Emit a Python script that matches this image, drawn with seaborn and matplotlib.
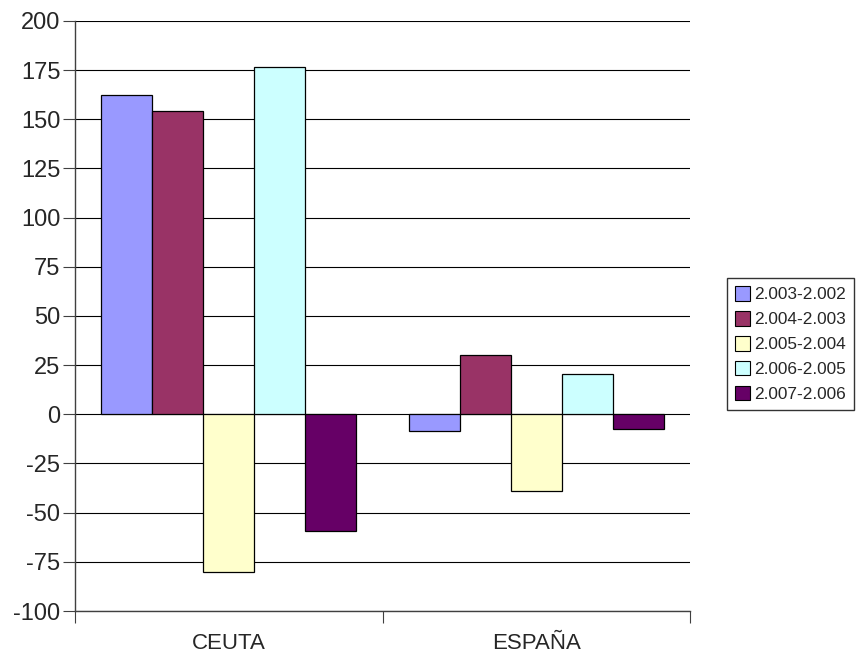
import matplotlib
matplotlib.use("Agg")
import matplotlib.pyplot as plt
import seaborn as sns
import pandas as pd

regions = ["CEUTA", "ESPAÑA"]
periods = ["2.003-2.002", "2.004-2.003", "2.005-2.004", "2.006-2.005", "2.007-2.006"]
ceuta = [162.3, 154.4, -80.3, 176.7, -59.5]
espana = [-8.5, 30.2, -38.9, 20.7, -7.6]
y_ticks = list(range(-100, 201, 25))

palette = ["#9999FF", "#993366", "#FFFFCC", "#CCFFFF", "#660066"]

df = pd.DataFrame({
    "region": [regions[0]] * len(periods) + [regions[1]] * len(periods),
    "period": periods * 2,
    "value": ceuta + espana,
})

sns.set_style("white")
plt.rcParams["font.family"] = ["Liberation Sans", "DejaVu Sans"]

fig = plt.figure(figsize=(8.66, 6.55), dpi=100)
ax = fig.add_axes([75 / 866, 1 - 611 / 655, (690 - 75) / 866, (611 - 21) / 655])

sns.barplot(data=df, x="region", y="value", hue="period", order=regions,
            hue_order=periods, palette=palette, width=0.83, gap=0,
            edgecolor="black", linewidth=0.9, saturation=1, ax=ax,
            legend=True, zorder=3)

ax.set_ylim(-100, 200)
ax.set_xlim(-0.5, 1.5)
ax.set_yticks(y_ticks)
ax.set_yticklabels([str(v) for v in y_ticks], fontsize=17)
ax.set_xlabel("")
ax.set_ylabel("")
ax.yaxis.grid(True, color="black", linewidth=0.8, zorder=0)
ax.set_axisbelow(True)

for side in ["top", "right"]:
    ax.spines[side].set_visible(False)
for side in ["left", "bottom"]:
    ax.spines[side].set_color("#404040")
    ax.spines[side].set_linewidth(1.0)

ax.tick_params(axis="y", which="major", left=True, length=8.5, width=0.8,
               color="#404040", pad=2, direction="out")
ax.tick_params(axis="x", which="major", bottom=False, labelsize=16, pad=12)
ax.set_xticks([-0.5, 0.5, 1.5], minor=True)
ax.tick_params(axis="x", which="minor", bottom=True, length=8.5, width=0.8,
               color="#404040", direction="out")

handles, labels = ax.get_legend_handles_labels()
ax.get_legend().remove()
leg = fig.legend(handles, labels, loc="upper left",
                 bbox_to_anchor=(727 / 866, 1 - 278 / 655),
                 frameon=True, fancybox=False, edgecolor="black",
                 fontsize=12.4, handlelength=0.9, handleheight=0.95,
                 handletextpad=0.25, labelspacing=0.5, borderpad=0.45,
                 borderaxespad=0)
leg.get_frame().set_linewidth(1.0)
for h in leg.legend_handles:
    h.set_edgecolor("black")
    h.set_linewidth(0.8)

fig.savefig("out.png", dpi=100)
